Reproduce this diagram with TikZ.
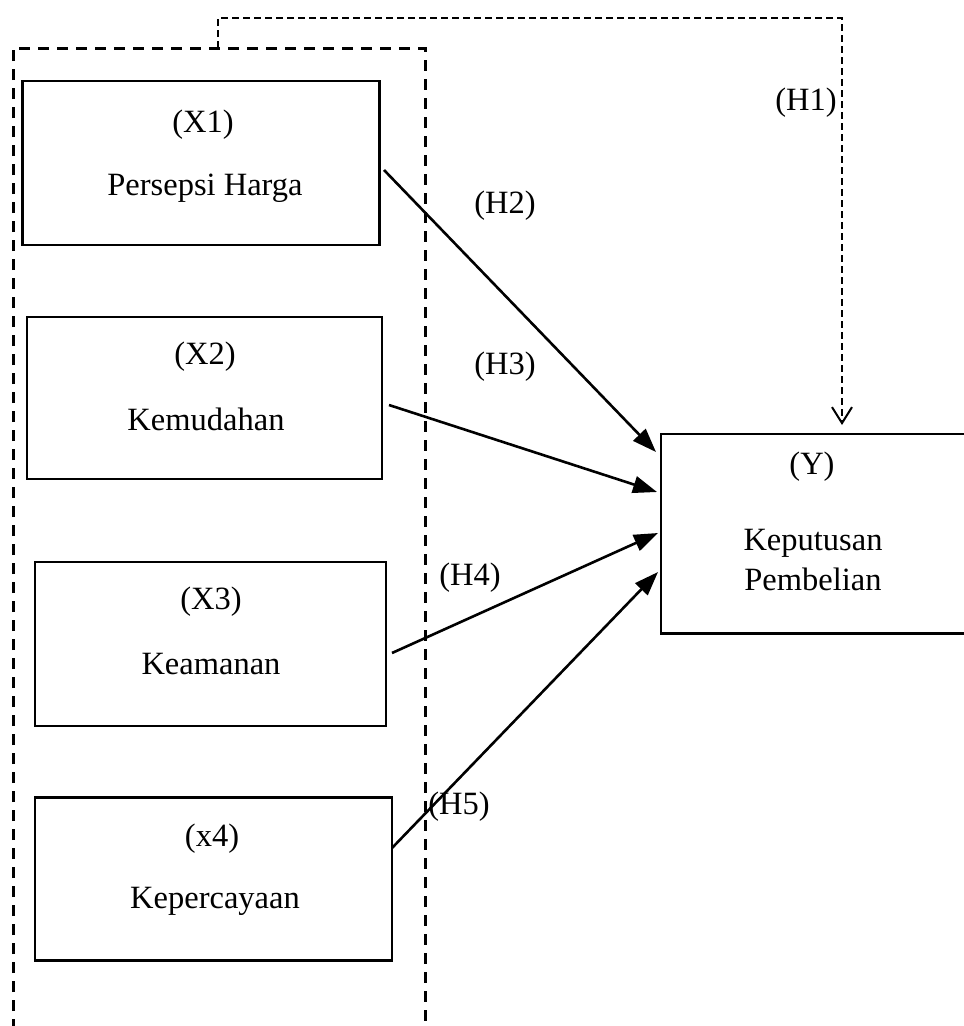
\documentclass[tikz,border=0pt]{standalone}
\usepackage{fontspec}
\setmainfont{Liberation Serif}
\usetikzlibrary{arrows.meta}
\begin{document}
\begin{tikzpicture}[x=1pt,y=-1pt,
  box/.style={draw,line width=2.6pt,inner sep=0pt},
  lbl/.style={font=\fontsize{32.5}{38}\selectfont,inner sep=0pt},
  bigdash/.style={line width=3pt,dash pattern=on 11pt off 8pt},
  smalldash/.style={line width=1.8pt,dash pattern=on 7pt off 4pt},
  link/.style={line width=2.6pt,-{Triangle[length=24pt,width=17pt]}}]
\useasboundingbox (0,0) rectangle (964,1026);
% group dashed frame
\coordinate (gbl) at (13,1030);
\coordinate (gtl) at (13,48);
\coordinate (gtr) at (425,48);
\coordinate (gbr) at (425,1030);
\coordinate (gm) at (218,48);
\draw[bigdash] (gbl) -- (gtl) -- (gtr) -- (gbr);
% boxes
\node[box,minimum width=357pt,minimum height=164pt] (x1) at (201,163) {};
\node[lbl] at (203,125) {(X1)};
\node[lbl] at (205,188) {Persepsi Harga};
\node[box,minimum width=355pt,minimum height=162pt] (x2) at (204.5,398) {};
\node[lbl] at (205,357) {(X2)};
\node[lbl] at (206,419) {Kemudahan};
\node[box,minimum width=351pt,minimum height=164pt] (x3) at (210.5,644) {};
\node[lbl] at (211,602) {(X3)};
\node[lbl] at (211,664) {Keamanan};
\node[box,minimum width=357pt,minimum height=163pt] (x4) at (213.5,879) {};
\node[lbl] at (212,839) {(x4)};
\node[lbl] at (215,901) {Kepercayaan};
% Y box (right edge cut off by page)
\node[minimum width=310pt,minimum height=199pt,inner sep=0pt] (y) at (816,533.5) {};
\draw[line width=2.6pt] (y.north east) -- (y.north west) -- (y.south west) -- (y.south east);
\node[lbl] at (812,467) {(Y)};
\node[lbl] at (813,543) {Keputusan};
\node[lbl] at (813,579) {Pembelian};
% connectors
\coordinate (s1) at (384,170);
\coordinate (e1) at (656,452);
\coordinate (s2) at (389,405);
\coordinate (e2) at (657,492);
\coordinate (s3) at (392,653);
\coordinate (e3) at (658,533);
\coordinate (s4) at (392,848);
\coordinate (e4) at (658,572);
\draw[link] (s1) -- (e1);
\draw[link] (s2) -- (e2);
\draw[link] (s3) -- (e3);
\draw[link] (s4) -- (e4);
% H1 dashed
\coordinate (h1a) at (218,18);
\coordinate (h1b) at (842,18);
\coordinate (h1c) at (842,425);
\draw[smalldash,-{Straight Barb[length=16pt,width=20pt,line width=2pt]}] (gm) -- (h1a) -- (h1b) -- (h1c);
% labels
\node[lbl] at (806,103) {(H1)};
\node[lbl] at (505,206) {(H2)};
\node[lbl] at (505,367) {(H3)};
\node[lbl] at (470,578) {(H4)};
\node[lbl] at (459,807) {(H5)};
\end{tikzpicture}
\end{document}
